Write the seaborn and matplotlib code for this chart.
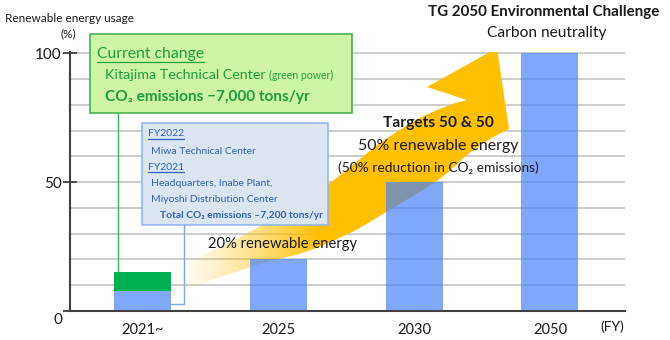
import numpy as np
import pandas as pd
import matplotlib
matplotlib.use("Agg")
import matplotlib.pyplot as plt
import seaborn as sns
from matplotlib.transforms import Affine2D
from matplotlib.patches import Rectangle, PathPatch
from matplotlib.path import Path
from matplotlib.lines import Line2D
from matplotlib.colors import to_rgb

# ---------------- data ----------------
categories = ["2021~", "2025", "2030", "2050"]
base_usage = [7.8, 20, 50, 100]          # renewable energy usage (%) - blue part
green_power = [7.4]                      # additional green power for 2021~ (%)
y_tick_values = [0, 50, 100]
y_tick_labels = ["", "50", "100"]

# ---------------- style ----------------
sns.set_theme(style="white")
plt.rcParams['font.family'] = ['Lato', 'DejaVu Sans']

W, H = 670, 340
fig = plt.figure(figsize=(6.7, 3.4), dpi=100)
ax = fig.add_axes([70 / W, 29 / H, 555 / W, 258.8 / H])
# picture-pixel coordinates (origin top-left) for decorative annotations
T = Affine2D().scale(1 / W, -1 / H).translate(0, 1) + fig.transFigure

BLUE = "#4a83f8"
GREEN = "#00b050"
GOLD = "#ffc000"
TXT = "#1a1a1a"
GTXT = "#1f9e3f"
BTXT = "#2f62b8"

df = pd.DataFrame({"year": categories, "usage": base_usage})
sns.barplot(data=df, x="year", y="usage", order=categories, color=BLUE,
            alpha=0.7, saturation=1, width=0.42, errorbar=None, ax=ax,
            zorder=2, linewidth=0)
dg = pd.DataFrame({"year": categories[:1], "usage": green_power})
sns.barplot(data=dg, x="year", y="usage", order=categories, color=GREEN,
            saturation=1, width=0.42, errorbar=None, bottom=base_usage[0],
            ax=ax, zorder=2, linewidth=0)

# ---------------- curved gradient arrow (decoration) ----------------
def catmull(points, n=30):
    P = np.array(points, float)
    P = np.vstack([2 * P[0] - P[1], P, 2 * P[-1] - P[-2]])
    out = []
    tt = np.linspace(0, 1, n, endpoint=False)[:, None]
    for i in range(1, len(P) - 2):
        p0, p1, p2, p3 = P[i - 1], P[i], P[i + 1], P[i + 2]
        out.append(0.5 * ((2 * p1) + (-p0 + p2) * tt
                          + (2 * p0 - 5 * p1 + 4 * p2 - p3) * tt ** 2
                          + (-p0 + 3 * p1 - 3 * p2 + p3) * tt ** 3))
    out.append(P[-2][None])
    return np.vstack(out)

upper_guide = [(168, 272), (240, 237), (300, 203), (330, 183), (355, 163),
               (383, 141), (420, 118), (450, 105), (467, 100)]
lower_guide = [(180, 291), (260, 264), (305, 252), (350, 233), (383, 214),
               (438, 180), (467, 155), (490, 139), (507, 130)]
head_guide = [(427, 87), (497, 48), (509, 129)]
upper = catmull(upper_guide)
lower = catmull(lower_guide)
poly = np.vstack([upper, np.array(head_guide, float), lower[::-1], upper[:1]])
arrow_patch = PathPatch(Path(poly), transform=T, facecolor="none", edgecolor="none")

ncol = 400
xpx = np.linspace(160, 515, ncol)
alpha = np.clip((xpx - 170) / 150, 0, 1) ** 1.3
img = np.zeros((2, ncol, 4))
img[..., :3] = to_rgb(GOLD)
img[..., 3] = alpha
im = ax.imshow(img, extent=(160, 515, 300, 40), transform=T, aspect="auto",
               zorder=1, interpolation="bilinear")
im.set_clip_path(arrow_patch)

# ---------------- axes formatting ----------------
ax.set_xlim(-0.538, 3.553)
ax.set_ylim(0, 100.5)
ax.set_yticks(y_tick_values)
ax.set_yticklabels(y_tick_labels)
ax.set_yticks(np.arange(0, 101, 10), minor=True)
ax.set_axisbelow(True)
ax.yaxis.grid(True, which="both", color="#c8c8c8", lw=1.3)
ax.xaxis.grid(False)
ax.tick_params(axis="y", which="major", direction="inout", length=10, width=1.3,
               color="#404040", labelsize=11, pad=1, labelcolor=TXT, left=True)
ax.tick_params(axis="y", which="minor", length=0)
ax.tick_params(axis="x", length=0, pad=9, labelsize=10.5, labelcolor=TXT)
for s in ["top", "right"]:
    ax.spines[s].set_visible(False)
for s in ["left", "bottom"]:
    ax.spines[s].set_color("#404040")
    ax.spines[s].set_linewidth(1.5)
ax.set_xlabel("")
ax.set_ylabel("")

def txt(x, y, s, **kw):
    kw.setdefault("color", TXT)
    kw.setdefault("va", "center")
    return ax.text(x, y, s, transform=T, clip_on=False, zorder=7, **kw)

# zero label (sits slightly below the axis)
txt(62, 320, "0", fontsize=11, ha="right")
txt(600, 327, "(FY)", fontsize=10, ha="left")
txt(5, 18, "Renewable energy usage", fontsize=8.5, ha="left")
txt(68, 34, "(%)", fontsize=8.5, ha="center")

# titles and target texts
txt(428, 12, "TG 2050 Environmental Challenge", fontsize=10.9, fontweight="bold", ha="left")
txt(547, 33, "Carbon neutrality", fontsize=11.2, ha="center")
txt(438, 123, "Targets 50 & 50", fontsize=11.2, fontweight="bold", ha="center")
txt(438, 146, "50% renewable energy", fontsize=11.4, ha="center")
txt(438, 168, "(50% reduction in CO₂ emissions)", fontsize=9.9, ha="center")
txt(283, 244, "20% renewable energy", fontsize=10.6, ha="center")

# green box
ax.add_patch(Rectangle((90, 34), 262, 79, transform=T, facecolor="#cdf5a5",
                       edgecolor="#4cb050", lw=1.2, zorder=5, clip_on=False))
t_cc = txt(97, 54, "Current change", fontsize=11.3, ha="left", color=GTXT)
t_kt = txt(105, 79, "Kitajima Technical Center", fontsize=10.3, ha="left",
           color=GTXT, va="baseline")
txt(105, 97, "CO₂ emissions −7,000 tons/yr", fontsize=11.1, ha="left",
    color=GTXT, fontweight="bold")

# blue box
ax.add_patch(Rectangle((142, 123), 186, 102, transform=T, facecolor="#dce6f2",
                       edgecolor="#8db3f0", lw=1.1, zorder=5, clip_on=False))
t_f22 = txt(148, 134, "FY2022", fontsize=7.5, ha="left", color=BTXT)
txt(151, 151, "Miwa Technical Center", fontsize=7.5, ha="left", color=BTXT)
t_f21 = txt(148, 167, "FY2021", fontsize=7.5, ha="left", color=BTXT)
txt(151, 183, "Headquarters, Inabe Plant,", fontsize=7.5, ha="left", color=BTXT)
txt(151, 199, "Miyoshi Distribution Center", fontsize=7.5, ha="left", color=BTXT)
txt(160, 215, "Total CO₂ emissions –7,200 tons/yr", fontsize=7.4, ha="left",
    color=BTXT, fontweight="bold")

# connectors (tied to bar geometry)
bar_half = 0.21
x_left_px = ax.transData.transform((0 - bar_half, 0))[0]
x_right_px = ax.transData.transform((0 + bar_half, 0))[0]
top_px = H - ax.transData.transform((0, base_usage[0] + green_power[0]))[1]
ax.add_line(Line2D([x_left_px + 4, x_left_px + 4], [113, top_px], transform=T,
                   color="#3cb064", lw=1, zorder=4, clip_on=False))
ax.add_line(Line2D([184, 184, x_right_px], [225, 304, 304], transform=T,
                   color="#7fa8f0", lw=1, zorder=4, clip_on=False))

# second pass: underlines and small text
fig.canvas.draw()
r = fig.canvas.get_renderer()
bb = t_kt.get_window_extent(r)
txt(bb.x1 + 3, 79, "(green power)", fontsize=7.6, ha="left", color=GTXT, va="baseline")
for tt, col in [(t_cc, GTXT), (t_f22, BTXT), (t_f21, BTXT)]:
    b = tt.get_window_extent(r)
    yy = H - b.y0 + 0.5
    ax.add_line(Line2D([b.x0, b.x1], [yy, yy], transform=T, color=col, lw=0.9,
                       zorder=7, clip_on=False))

fig.savefig("out.png", dpi=100)
